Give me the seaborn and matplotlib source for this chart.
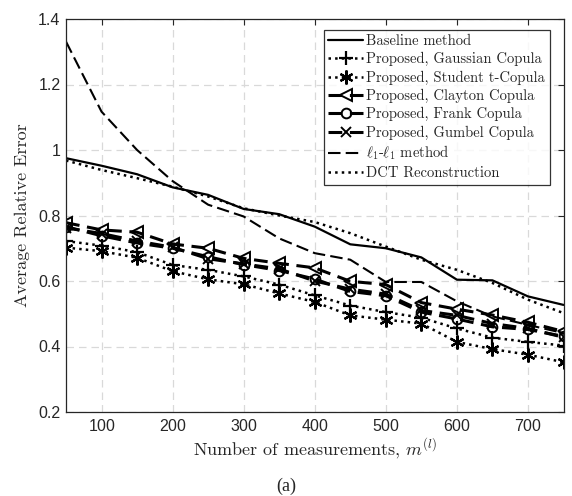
import numpy as np
import pandas as pd
import matplotlib
matplotlib.use("Agg")
import matplotlib.pyplot as plt
import seaborn as sns

# ---- data ----
m_values = [50, 100, 150, 200, 250, 300, 350, 400, 450, 500, 550, 600, 650, 700, 750]
baseline = [0.975, 0.952, 0.926, 0.886, 0.863, 0.820, 0.804, 0.766, 0.712, 0.700, 0.672, 0.604, 0.602, 0.553, 0.527]
gaussian = [0.722, 0.708, 0.688, 0.649, 0.634, 0.614, 0.589, 0.556, 0.525, 0.505, 0.488, 0.455, 0.427, 0.414, 0.403]
student = [0.702, 0.691, 0.671, 0.630, 0.605, 0.590, 0.562, 0.536, 0.495, 0.482, 0.470, 0.414, 0.392, 0.375, 0.352]
clayton = [0.778, 0.756, 0.749, 0.713, 0.700, 0.669, 0.654, 0.640, 0.599, 0.589, 0.534, 0.514, 0.496, 0.474, 0.446]
frank = [0.766, 0.738, 0.716, 0.700, 0.674, 0.650, 0.632, 0.606, 0.568, 0.555, 0.505, 0.484, 0.460, 0.452, 0.431]
gumbel = [0.762, 0.745, 0.722, 0.703, 0.668, 0.652, 0.637, 0.600, 0.575, 0.560, 0.510, 0.495, 0.470, 0.455, 0.428]
l1l1 = [1.331, 1.117, 1.000, 0.905, 0.833, 0.797, 0.730, 0.685, 0.665, 0.597, 0.597, 0.538, 0.492, 0.466, 0.441]
dct = [0.968, 0.939, 0.914, 0.888, 0.858, 0.822, 0.800, 0.780, 0.746, 0.705, 0.665, 0.634, 0.594, 0.543, 0.502]

labels = [
    "Baseline method",
    "Proposed, Gaussian Copula",
    "Proposed, Student t-Copula",
    "Proposed, Clayton Copula",
    "Proposed, Frank Copula",
    "Proposed, Gumbel Copula",
    r"$\ell_1$-$\ell_1$ method",
    "DCT Reconstruction",
]
series = [baseline, gaussian, student, clayton, frank, gumbel, l1l1, dct]
x_ticks = [100, 200, 300, 400, 500, 600, 700]
y_ticks = [0.2, 0.4, 0.6, 0.8, 1.0, 1.2, 1.4]
y_ticklabels = ["0.2", "0.4", "0.6", "0.8", "1", "1.2", "1.4"]

# ---- styles ----
styles = [
    dict(linestyle="-", marker=None, lw=1.6),
    dict(linestyle=":", marker="+", lw=1.8, ms=10, mew=1.6),
    dict(linestyle=":", marker=(6, 2, 0), lw=1.8, ms=10, mew=1.6),
    dict(linestyle=(0, (4.5, 2.5)), marker="<", lw=2.2, ms=9, mew=1.4, mfc="none"),
    dict(linestyle=(0, (4.5, 2.5)), marker="o", lw=2.2, ms=7, mew=1.4, mfc="none"),
    dict(linestyle=(0, (4.5, 2.5)), marker="x", lw=2.2, ms=7, mew=1.4),
    dict(linestyle=(0, (6, 2.5)), marker=None, lw=1.5),
    dict(linestyle=":", marker=None, lw=1.8),
]

sns.set_style("white")
plt.rcParams["mathtext.fontset"] = "cm"
plt.rcParams["axes.formatter.use_mathtext"] = True

fig = plt.figure(figsize=(5.72, 4.96), dpi=100)
ax = fig.add_axes([66 / 572, 1 - 412 / 496, (563.5 - 66) / 572, (412 - 19) / 496])

for lab, vals, st in zip(labels, series, styles):
    df = pd.DataFrame({"m": m_values, "err": vals})
    kw = dict(color="black", linestyle=st["linestyle"], linewidth=st["lw"])
    if st["marker"] is not None:
        kw.update(marker=st["marker"], markersize=st["ms"], markeredgewidth=st["mew"],
                  markeredgecolor="black")
        if "mfc" in st:
            kw["markerfacecolor"] = st["mfc"]
    sns.lineplot(data=df, x="m", y="err", ax=ax, label=lab, **kw)

ax.set_xlim(50, 750)
ax.set_ylim(0.2, 1.4)
ax.set_xticks(x_ticks)
ax.set_yticks(y_ticks)
ax.set_yticklabels(y_ticklabels)
for t in ax.get_xticklabels() + ax.get_yticklabels():
    t.set_fontfamily("Liberation Sans")
    t.set_fontsize(11.5)
    t.set_color("#262626")

ax.grid(True, color="#d9d9d9", linestyle=(0, (6, 4)), linewidth=0.9)
ax.tick_params(direction="in", length=4, width=0.8, top=True, right=True,
               colors="#262626", pad=4)
for sp in ax.spines.values():
    sp.set_color("#262626")
    sp.set_linewidth(0.9)

ax.set_xlabel(r"Number of measurements, $m^{(l)}$", fontfamily="cmr10", fontsize=13, labelpad=2)
ax.set_ylabel("Average Relative Error", fontfamily="cmr10", fontsize=13, labelpad=6)

leg = ax.legend(loc="upper right", bbox_to_anchor=(1 - 14 / 497.5, 1 - 11 / 393),
                borderaxespad=0, prop={"family": "cmr10", "size": 10.5},
                frameon=True, fancybox=False, edgecolor="black", handlelength=2.4,
                handletextpad=0.2, labelspacing=0.28, borderpad=0.3)
leg.get_frame().set_linewidth(0.9)

fig.text(0.5, 1 - 486 / 496, "(a)", ha="center", va="center", fontfamily="Liberation Serif",
         fontsize=13)

fig.savefig("out.png", dpi=100)
